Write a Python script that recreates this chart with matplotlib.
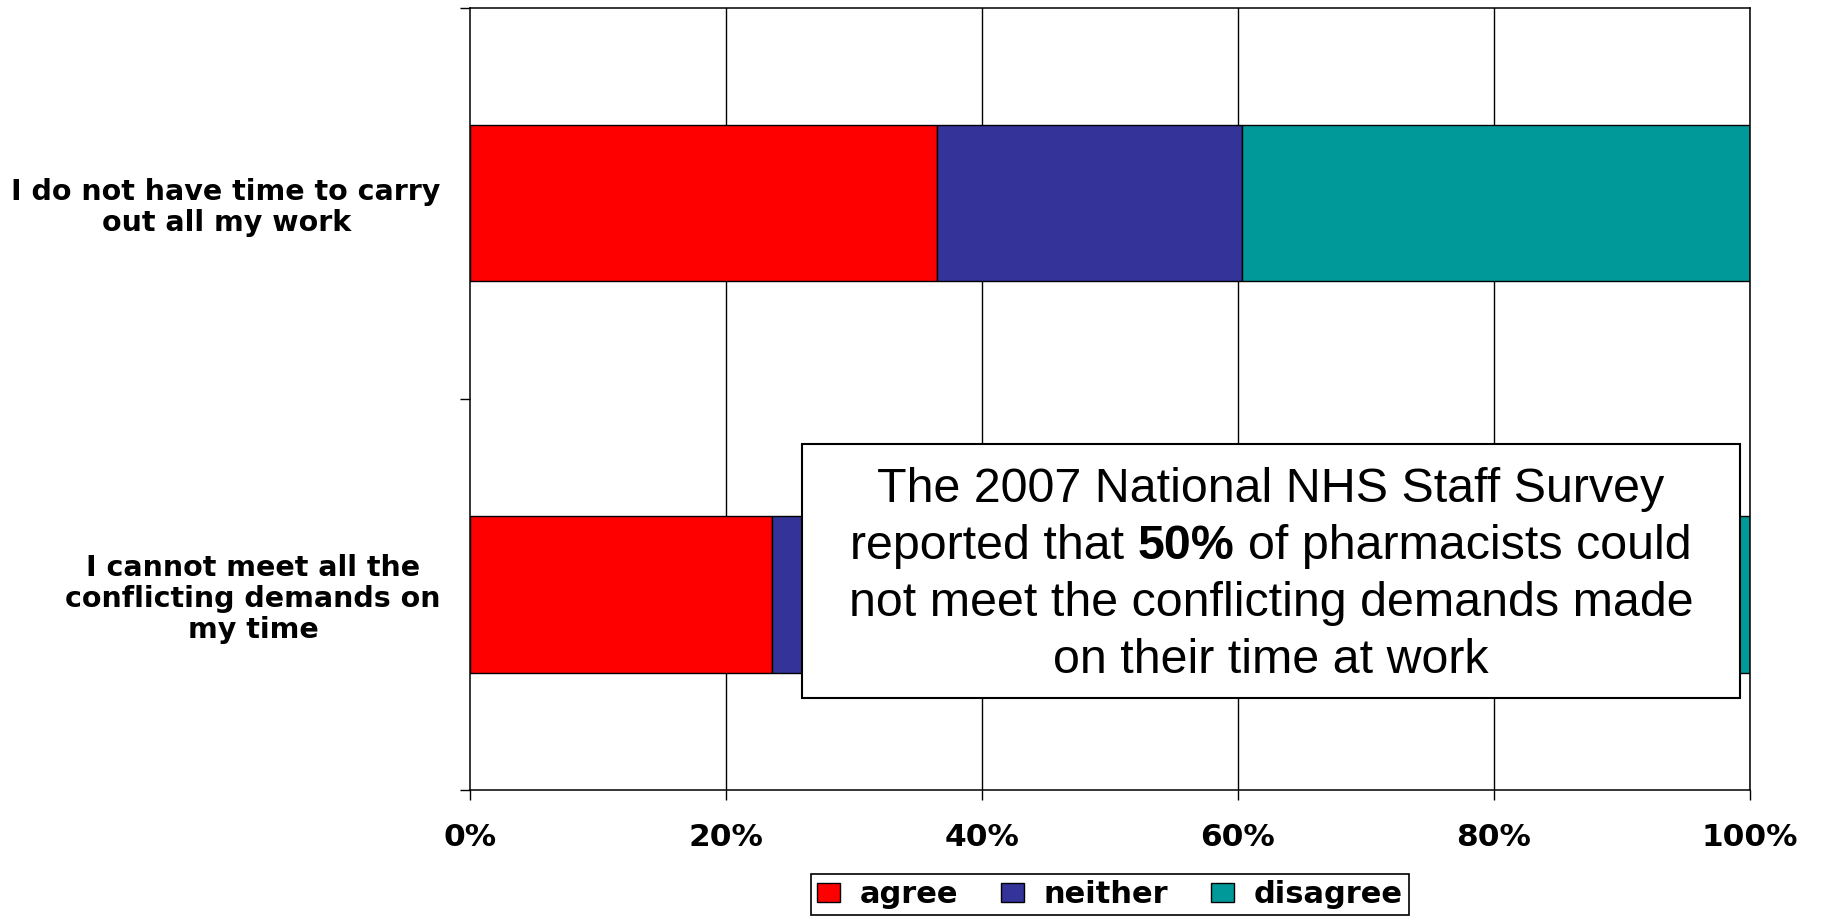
"""
Stacked horizontal bars for the workload survey questions,
with a call-out box quoting the 2007 NHS staff survey.
"""

import matplotlib.pyplot as plt
from matplotlib.patches import Patch, Rectangle

categories = [
    "I do not have time to carry\nout all my work",
    "I cannot meet all the\nconflicting demands on\nmy time",
]
agree = [36.5, 23.6]
neither = [23.8, 30.0]
disagree = [39.7, 46.4]

series_names = ["agree", "neither", "disagree"]
series_colors = ["#ff0000", "#333399", "#009999"]
x_ticks = [0, 20, 40, 60, 80, 100]

callout_lines = [
    "The 2007 National NHS Staff Survey",
    ("reported that ", "50%", " of pharmacists could"),
    "not meet the conflicting demands made",
    "on their time at work",
]

W, H = 1821, 916
LABEL_FONT = "DejaVu Sans"
BOX_FONT = "Liberation Sans"
BOX_SIZE = 34.8


def fx(px):
    return px / W


def fy(py):
    return 1 - py / H


def main():

    fig = plt.figure(figsize=(W / 100, H / 100), dpi=100)
    fig.patch.set_facecolor("white")

    ax = fig.add_axes([fx(470), fy(790), fx(1750) - fx(470), fy(7.5) - fy(790)])

    y = list(range(len(categories)))
    left = [0] * len(categories)
    for values, name, color in zip([agree, neither, disagree], series_names, series_colors):
        ax.barh(y, values, left=left, height=0.4, color=color,
                edgecolor="black", linewidth=1.0, label=name, zorder=2)
        left = [l + v for l, v in zip(left, values)]

    ax.set_xlim(0, 100)
    ax.set_ylim(len(categories) - 0.5, -0.5)

    # vertical gridlines
    for v in x_ticks[1:]:
        ax.axvline(v, color="black", linewidth=1.0, zorder=1)

    ax.set_xticks(x_ticks)
    ax.set_xticklabels([f"{v}%" for v in x_ticks])
    ax.tick_params(axis="x", direction="out", length=7.5, width=1.0, pad=16,
                   labelsize=22.5)
    for lbl in ax.get_xticklabels():
        lbl.set_fontweight("bold")
        lbl.set_family(LABEL_FONT)

    ax.set_yticks(y)
    ax.set_yticklabels(categories, multialignment="center", linespacing=1.15)
    ax.set_yticks([-0.5 + i for i in range(len(categories) + 1)], minor=True)
    ax.tick_params(axis="y", which="major", length=0, pad=21, labelsize=20.5)
    ax.tick_params(axis="y", which="minor", direction="out", length=7, width=1.0)
    for lbl in ax.get_yticklabels():
        lbl.set_fontweight("bold")
        lbl.set_family(LABEL_FONT)

    for spine in ax.spines.values():
        spine.set_color("black")
        spine.set_linewidth(1.1)

    # call-out box
    fig.add_artist(Rectangle((fx(802), fy(698)), fx(1740) - fx(802), fy(444) - fy(698),
                             transform=fig.transFigure, facecolor="white",
                             edgecolor="black", linewidth=1.5, zorder=5))

    cx = fx(1271)
    baselines = [502, 559, 616, 673]
    renderer = fig.canvas.get_renderer()
    for line, base in zip(callout_lines, baselines):
        if isinstance(line, str):
            fig.text(cx, fy(base), line, ha="center", va="baseline",
                     fontsize=BOX_SIZE, family=BOX_FONT, zorder=6)
            continue
        parts = []
        for i, piece in enumerate(line):
            weight = "bold" if i == 1 else "normal"
            t = fig.text(0, fy(base), piece.strip(), ha="left", va="baseline",
                         fontsize=BOX_SIZE, family=BOX_FONT, fontweight=weight, zorder=6)
            parts.append(t)
        space = 0.278 * BOX_SIZE * 100 / 72
        widths = [t.get_window_extent(renderer).width for t in parts]
        total = sum(widths) + 2 * space
        x = cx * W - total / 2
        for t, w in zip(parts, widths):
            t.set_x(x / W)
            x += w + space

    handles = [Patch(facecolor=c, edgecolor="black", linewidth=1.0) for c in series_colors]
    leg = fig.legend(handles, series_names, loc="upper center",
                     bbox_to_anchor=(fx(1110), fy(874)), ncol=3,
                     prop={"family": LABEL_FONT, "weight": "bold", "size": 22},
                     frameon=True, fancybox=False, framealpha=1, edgecolor="black",
                     borderpad=0.2, handlelength=0.75, handleheight=0.6,
                     handletextpad=0.65, columnspacing=1.4, borderaxespad=0)
    leg.get_frame().set_linewidth(1.2)

    fig.savefig("out.png", dpi=100)
    plt.close(fig)


if __name__ == "__main__":
    main()
